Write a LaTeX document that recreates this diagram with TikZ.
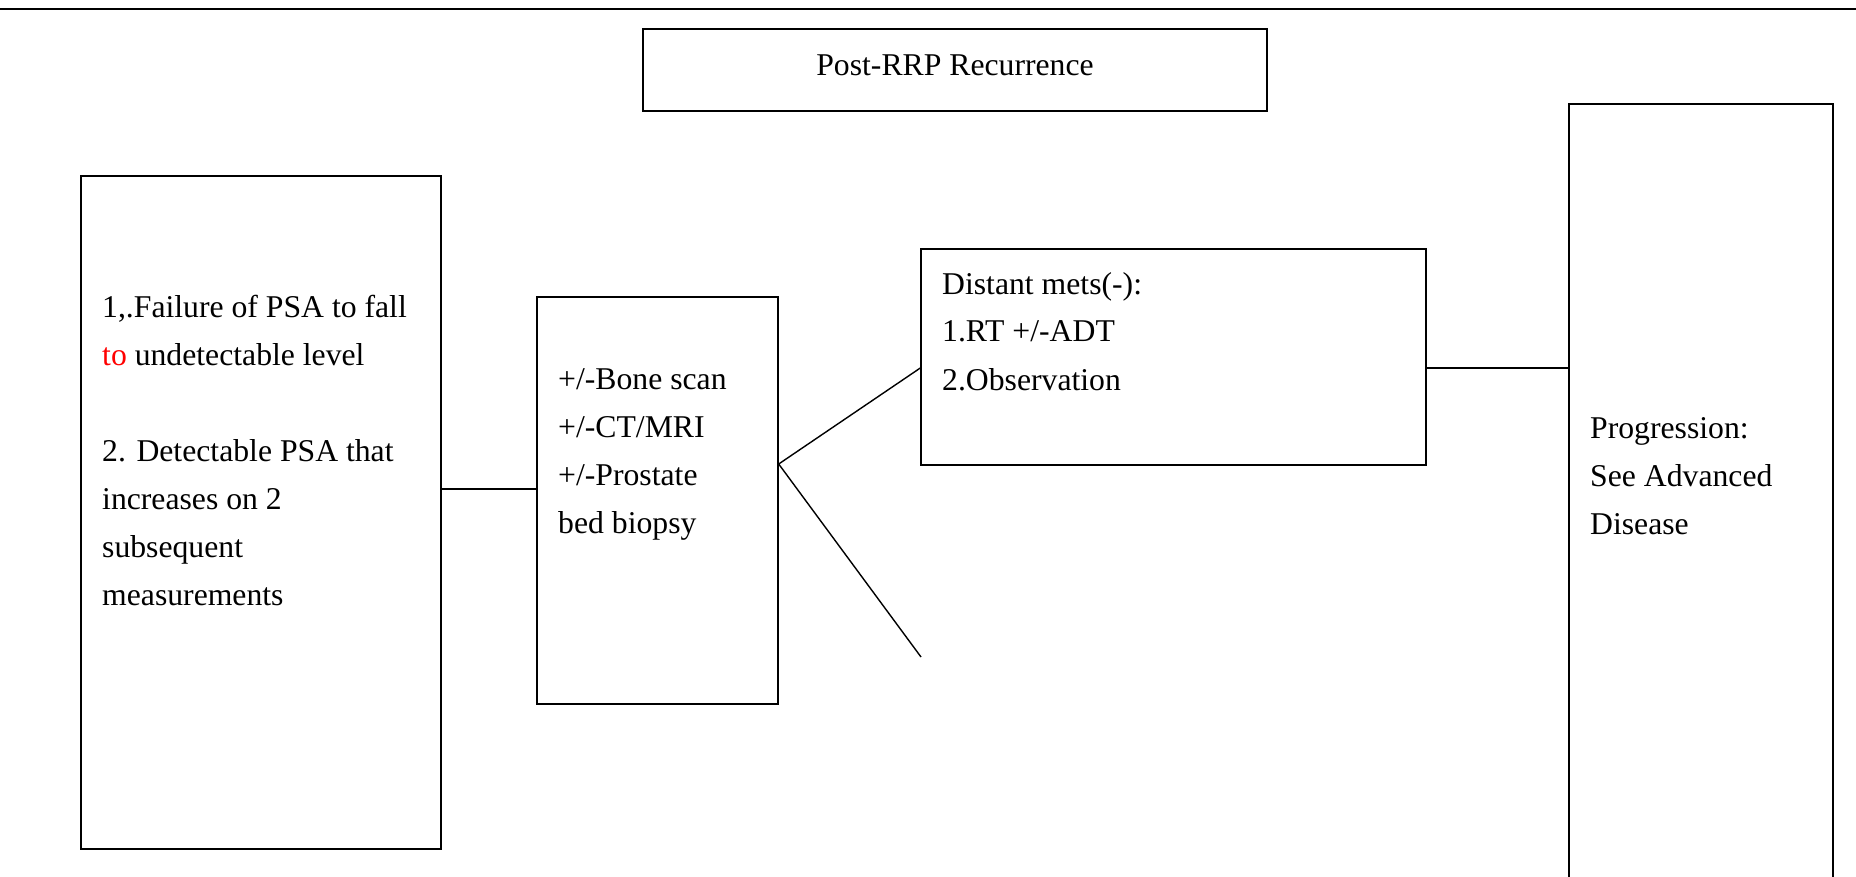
\documentclass[tikz,border=0pt]{standalone}
\usepackage{fontspec}
\setmainfont{Liberation Serif}
\usepackage{tikz}
\definecolor{rrpred}{HTML}{FF0000}

\tikzset{
  box/.style={draw, line width=1.4pt, inner sep=0pt},
  txt/.style={align=left, inner sep=0pt, anchor=base west, font=\fontsize{31.7}{48}\selectfont},
  link/.style={line width=1.4pt}
}

\begin{document}
\begin{tikzpicture}[x=1pt,y=-1pt]
    \useasboundingbox (0,0) rectangle (1856,877);
    \draw[line width=2pt] (0,9) -- (1856,9);
    \node[box, minimum width=624pt, minimum height=82pt, text depth=10pt, font=\fontsize{31.7}{36}\selectfont] (title) at (955,70) {Post-RRP Recurrence};
    \node[box, minimum width=360pt, minimum height=673pt] (crit) at (261,512.5) {};
    \node[box, minimum width=241pt, minimum height=407pt] (exams) at (657.5,500.5) {};
    \node[box, minimum width=505pt, minimum height=216pt] (mets) at (1173.5,357) {};
    \node[box, minimum width=264pt, minimum height=856pt] (prog) at (1701,532) {};
    \node[txt] (crittext) at (102,605) {1,.Failure of PSA to fall\\\textcolor{rrpred}{to} undetectable level\\[48pt]2. Detectable PSA that\\increases on 2\\subsequent\\measurements};
    \node[txt] (examstext) at (558,533) {+/-Bone scan\\+/-CT/MRI\\+/-Prostate\\bed biopsy};
    \node[txt] (metstext) at (942,390) {Distant mets(-):\\1.RT +/-ADT\\2.Observation};
    \node[txt] (progtext) at (1590,534) {Progression:\\See Advanced\\Disease};
    \coordinate (fork) at (exams.east |- 0,464);
    \coordinate (open end) at (921,657);
    \draw[link] (crit.east |- 0,489) -- (exams.west |- 0,489);
    \draw[link] (fork) -- (mets.west |- 0,368);
    \draw[link] (fork) -- (open end);
    \draw[link] (mets.east |- 0,368) -- (prog.west |- 0,368);
  \end{tikzpicture}
\end{document}
